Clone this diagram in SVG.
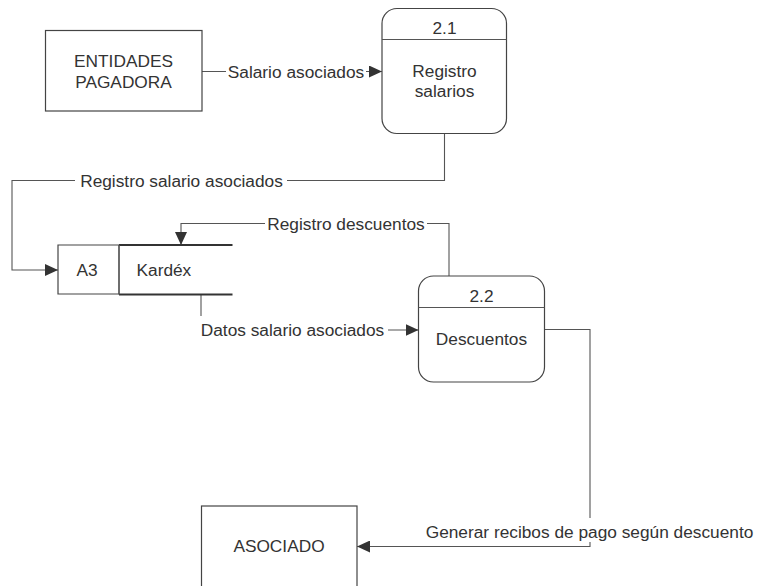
<svg xmlns="http://www.w3.org/2000/svg" width="761" height="586" viewBox="0 0 761 586">
  <style>
    text { font-family: "Liberation Sans", Arial, sans-serif; font-size: 17.3px; fill: #333333; }
    .mid { text-anchor: middle; }
    .box { fill: #ffffff; stroke: #444444; stroke-width: 1.2; }
    .line { fill: none; stroke: #555555; stroke-width: 1.1; }
    .flow { fill: none; stroke: #555555; stroke-width: 1.1; }
    .store { fill: none; stroke: #333333; stroke-width: 1.8; }
    .bg { fill: #ffffff; }
  </style>
  <defs>
    <marker id="arrow" markerUnits="userSpaceOnUse" markerWidth="14" markerHeight="12" refX="13" refY="6" orient="auto">
      <path d="M0,0 L13,6 L0,12 Z" fill="#333333"/>
    </marker>
  </defs>

  <rect width="761" height="586" fill="#ffffff"/>

  <!-- connectors -->
  <g id="connectors">
    <path class="flow" d="M202,71.5 H382" marker-end="url(#arrow)"/>
    <path class="flow" d="M444.5,133.5 V180.5 H12 V270 H58" marker-end="url(#arrow)"/>
    <path class="flow" d="M449,276 V223.5 H181 V245" marker-end="url(#arrow)"/>
    <path class="flow" d="M201,294 V330 H418.5" marker-end="url(#arrow)"/>
    <path class="flow" d="M544.5,329.5 H590 V546.5 H357" marker-end="url(#arrow)"/>

    <!-- flow labels -->
    <g id="label-salario">
      <rect class="bg" x="226" y="62" width="140" height="20"/>
      <text class="mid" x="296" y="77.5">Salario asociados</text>
    </g>
    <g id="label-registro-salario">
      <rect class="bg" x="75" y="171" width="212" height="20"/>
      <text class="mid" x="181.5" y="186.5">Registro salario asociados</text>
    </g>
    <g id="label-registro-descuentos">
      <rect class="bg" x="265" y="214" width="162" height="20"/>
      <text class="mid" x="346" y="229.5">Registro descuentos</text>
    </g>
    <g id="label-datos">
      <rect class="bg" x="197" y="316" width="191" height="24"/>
      <text class="mid" x="292.5" y="336">Datos salario asociados</text>
    </g>
    <g id="label-generar">
      <rect class="bg" x="421" y="518" width="338" height="24"/>
      <text class="mid" x="589.5" y="537.5">Generar recibos de pago según descuento</text>
    </g>
  </g>

  <!-- external entity -->
  <g id="entidades-pagadora">
    <rect class="box" x="45.5" y="30.5" width="156.5" height="80.5"/>
    <text class="mid" x="123.5" y="67">ENTIDADES</text>
    <text class="mid" x="123.5" y="88">PAGADORA</text>
  </g>

  <!-- process 2.1 -->
  <g id="proceso-2-1">
    <rect class="box" x="382" y="8.5" width="124.5" height="125" rx="15" ry="15"/>
    <line class="line" x1="382" y1="39.5" x2="506.5" y2="39.5"/>
    <text class="mid" x="444.5" y="34">2.1</text>
    <text class="mid" x="444.5" y="77">Registro</text>
    <text class="mid" x="444.5" y="97">salarios</text>
  </g>

  <!-- data store A3 -->
  <g id="almacen-a3">
    <path class="box" d="M119,245 H58 V294 H119 Z"/>
    <path class="store" d="M119,245 H232.5 M119,294.5 H232.5"/>
    <line class="line" x1="119" y1="245" x2="119" y2="294.5"/>
    <text class="mid" x="87" y="275.5">A3</text>
    <text x="136.5" y="275.5">Kardéx</text>
  </g>

  <!-- process 2.2 -->
  <g id="proceso-2-2">
    <rect class="box" x="418.5" y="276" width="126" height="106" rx="15" ry="15"/>
    <line class="line" x1="418.5" y1="307.5" x2="544.5" y2="307.5"/>
    <text class="mid" x="481.5" y="302">2.2</text>
    <text class="mid" x="481.5" y="345">Descuentos</text>
  </g>

  <!-- external entity -->
  <g id="asociado">
    <rect class="box" x="201.5" y="506" width="155.5" height="90"/>
    <text class="mid" x="279" y="552">ASOCIADO</text>
  </g>
</svg>
